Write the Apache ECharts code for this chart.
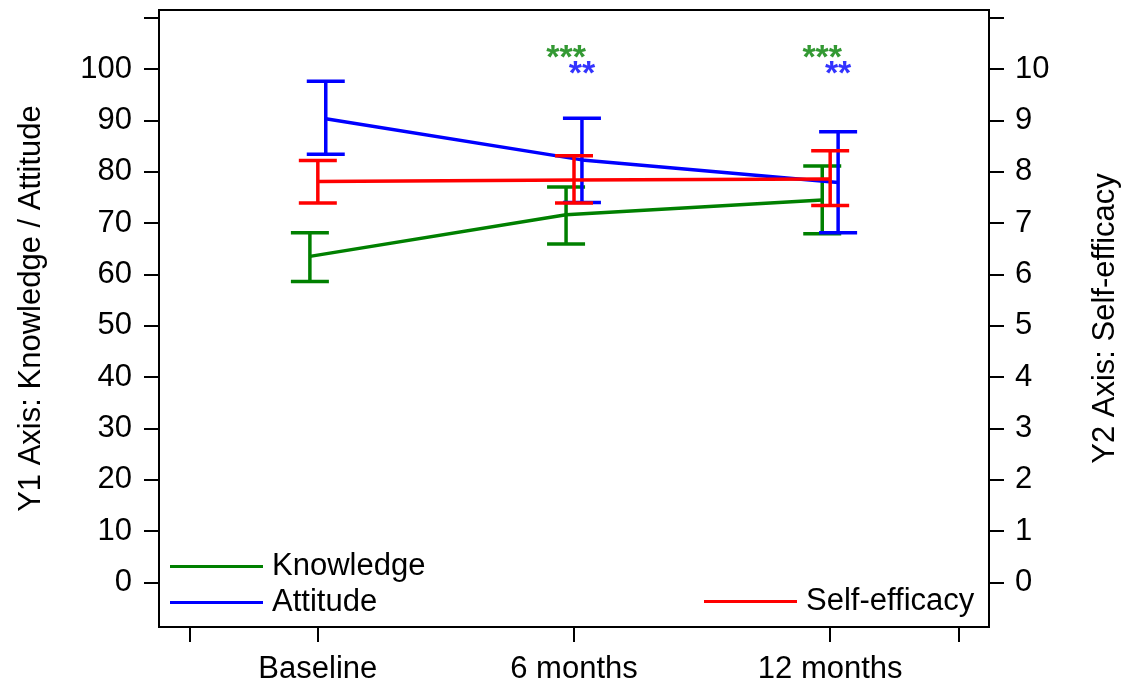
<!DOCTYPE html>
<html>
<head>
<meta charset="utf-8">
<script src="https://cdn.jsdelivr.net/npm/echarts@6/dist/echarts.min.js"></script>
<style>html,body{margin:0;padding:0;background:#fff}#chart{width:1125px;height:686px}</style>
</head>
<body>
<div id="chart"></div>
<script>
// ---- data ----
const categories = ['Baseline', '6 months', '12 months'];
const knowledgeMean = [63.5, 71.6, 74.5];
const knowledgeLow  = [58.6, 65.9, 67.9];
const knowledgeHigh = [68.1, 77.0, 81.1];
const attitudeMean  = [90.3, 82.3, 77.9];
const attitudeLow   = [83.4, 74.0, 68.1];
const attitudeHigh  = [97.6, 90.4, 87.8];
const selfEffMean   = [7.81, 7.84, 7.86];
const selfEffLow    = [7.39, 7.39, 7.34];
const selfEffHigh   = [8.22, 8.31, 8.41];
const knowledgeSig  = ['', '***', '***'];
const attitudeSig   = ['', '**', '**'];
const xTickValues   = [0.5, 1, 2, 3, 3.5];
const y1TickValues  = [0,10,20,30,40,50,60,70,80,90,100,110];
const y1LabelValues = [0,10,20,30,40,50,60,70,80,90,100];
const y2TickValues  = [0,1,2,3,4,5,6,7,8,9,10,11];
const y2LabelValues = [0,1,2,3,4,5,6,7,8,9,10];

// ---- layout / style ----
const FONT = '"Liberation Sans", Arial, sans-serif';
const FS = 31;
const GREEN = '#008000', BLUE = '#0000ff', RED = '#ff0000';
const DODGE = { k: -0.031, s: 0, a: 0.031 };
const SIG_Y = { k: 102, a: 99 };
const CAP = 19;
const LW = 3.5;

function pts(mean, d) { return mean.map((v, i) => [i + 1 + d, v]); }
function bars(lo, hi, d) { return lo.map((v, i) => [i + 1 + d, v, hi[i]]); }
function sig(labels, d, y) {
  return labels.map((s, i) => [i + 1 + d, y, s]).filter(p => p[2] !== '');
}
function errRender(color) {
  return function (params, api) {
    const x = api.value(0);
    const a = api.coord([x, api.value(1)]);
    const b = api.coord([x, api.value(2)]);
    const st = { stroke: color, lineWidth: LW };
    return {
      type: 'group',
      children: [
        { type: 'line', shape: { x1: a[0], y1: a[1], x2: b[0], y2: b[1] }, style: st },
        { type: 'line', shape: { x1: a[0] - CAP, y1: a[1], x2: a[0] + CAP, y2: a[1] }, style: st },
        { type: 'line', shape: { x1: b[0] - CAP, y1: b[1], x2: b[0] + CAP, y2: b[1] }, style: st }
      ]
    };
  };
}

const axisLineStyle = { color: '#000', width: 2 };
const chart = echarts.init(document.getElementById('chart'));
chart.setOption({
  animation: false,
  backgroundColor: '#fff',
  textStyle: { fontFamily: FONT },
  grid: { left: 159, right: 136, top: 10, bottom: 59, outerBoundsMode: 'none', containLabel: false,
          show: true, borderColor: '#000', borderWidth: 2, backgroundColor: 'transparent' },
  legend: [
    {
      orient: 'vertical', left: 170, top: 551, padding: 0, itemGap: 5,
      itemWidth: 93, itemHeight: 3, icon: 'rect',
      textStyle: { fontFamily: FONT, fontSize: FS, color: '#000', lineHeight: 30, padding: [0, 0, 0, 4] },
      data: ['Knowledge', 'Attitude']
    },
    {
      orient: 'vertical', left: 704, top: 586, padding: 0,
      itemWidth: 93, itemHeight: 3, icon: 'rect',
      textStyle: { fontFamily: FONT, fontSize: FS, color: '#000', lineHeight: 30, padding: [0, 0, 0, 4] },
      data: ['Self-efficacy']
    }
  ],
  xAxis: {
    type: 'value', min: 0.38, max: 3.62,
    splitLine: { show: false },
    axisLine: { onZero: false, lineStyle: axisLineStyle },
    axisTick: { show: true, length: 15, lineStyle: axisLineStyle, customValues: xTickValues },
    axisLabel: {
      customValues: [1, 2, 3], margin: 27, fontSize: FS, color: '#000', fontFamily: FONT,
      formatter: v => categories[Math.round(v) - 1] || ''
    }
  },
  yAxis: [
    {
      type: 'value', position: 'left', min: -8.7, max: 111.5,
      name: 'Y1 Axis: Knowledge / Attitude', nameLocation: 'middle', nameRotate: 90, nameGap: 112,
      nameTextStyle: { fontSize: FS, color: '#000', fontFamily: FONT, padding: [0, 0, 0, 20] },
      splitLine: { show: false },
      axisLine: { show: true, onZero: false, lineStyle: axisLineStyle },
      axisTick: { show: true, length: 15, lineStyle: axisLineStyle, customValues: y1TickValues },
      axisLabel: { customValues: y1LabelValues, margin: 27, fontSize: FS, color: '#000', fontFamily: FONT }
    },
    {
      type: 'value', position: 'right', min: -0.87, max: 11.15,
      name: 'Y2 Axis: Self-efficacy', nameLocation: 'middle', nameRotate: 90, nameGap: 101,
      nameTextStyle: { fontSize: FS, color: '#000', fontFamily: FONT },
      splitLine: { show: false },
      axisLine: { show: true, onZero: false, lineStyle: axisLineStyle },
      axisTick: { show: true, length: 15, lineStyle: axisLineStyle, customValues: y2TickValues },
      axisLabel: { customValues: y2LabelValues, margin: 26, fontSize: FS, color: '#000', fontFamily: FONT }
    }
  ],
  series: [
    { name: 'Knowledge', type: 'line', yAxisIndex: 0, data: pts(knowledgeMean, DODGE.k), color: GREEN,
      showSymbol: false, lineStyle: { color: GREEN, width: LW }, z: 2 },
    { type: 'custom', yAxisIndex: 0, data: bars(knowledgeLow, knowledgeHigh, DODGE.k), renderItem: errRender(GREEN), z: 2 },
    { name: 'Attitude', type: 'line', yAxisIndex: 0, data: pts(attitudeMean, DODGE.a), color: BLUE,
      showSymbol: false, lineStyle: { color: BLUE, width: LW }, z: 3 },
    { type: 'custom', yAxisIndex: 0, data: bars(attitudeLow, attitudeHigh, DODGE.a), renderItem: errRender(BLUE), z: 3 },
    { name: 'Self-efficacy', type: 'line', yAxisIndex: 1, data: pts(selfEffMean, DODGE.s), color: RED,
      showSymbol: false, lineStyle: { color: RED, width: LW }, z: 4 },
    { type: 'custom', yAxisIndex: 1, data: bars(selfEffLow, selfEffHigh, DODGE.s), renderItem: errRender(RED), z: 4 },
    { type: 'scatter', yAxisIndex: 0, data: sig(knowledgeSig, DODGE.k, SIG_Y.k), symbolSize: 0, z: 5,
      label: { show: true, position: 'inside', formatter: p => p.value[2], fontSize: 34, fontWeight: 'bold', color: GREEN, fontFamily: FONT } },
    { type: 'scatter', yAxisIndex: 0, data: sig(attitudeSig, DODGE.a, SIG_Y.a), symbolSize: 0, z: 5,
      label: { show: true, position: 'inside', formatter: p => p.value[2], fontSize: 34, fontWeight: 'bold', color: BLUE, fontFamily: FONT } }
  ]
});
</script>
</body>
</html>
